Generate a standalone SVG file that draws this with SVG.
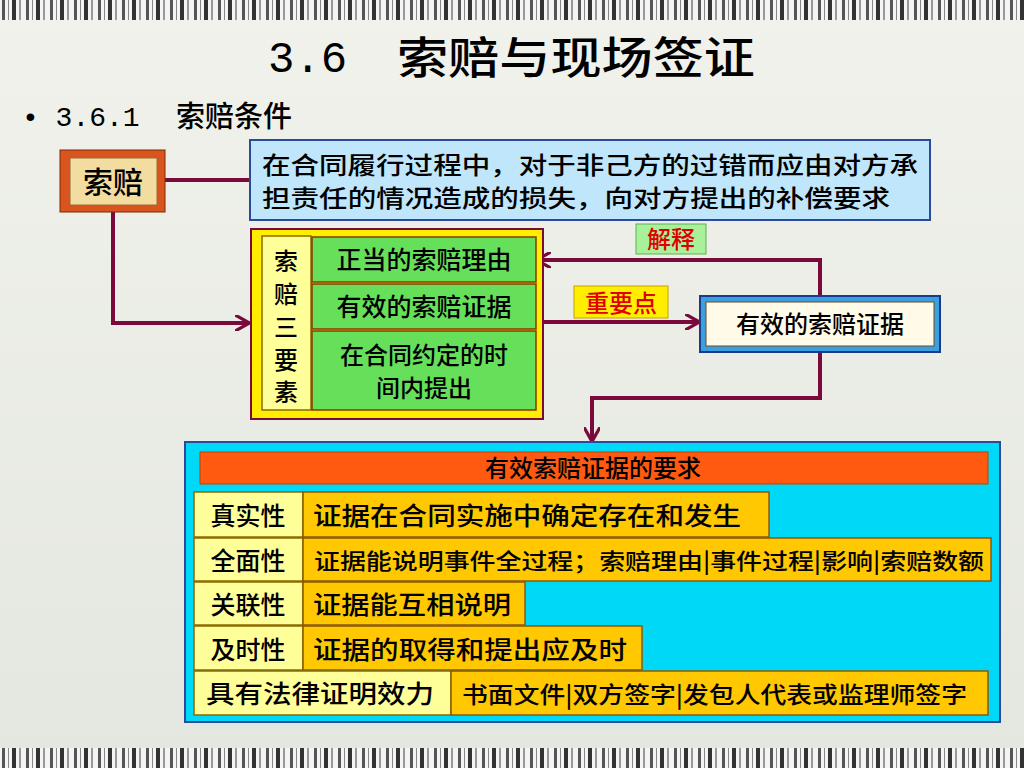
<svg xmlns="http://www.w3.org/2000/svg" width="1024" height="768" viewBox="0 0 1024 768">
<defs>
<linearGradient id="bg" x1="0" y1="0" x2="0" y2="1"><stop offset="0" stop-color="#f1f2ec"/><stop offset="1" stop-color="#e4e6e0"/></linearGradient>
<pattern id="bars" width="24" height="20" patternUnits="userSpaceOnUse"><rect width="24" height="20" fill="#f4f4f4"/><rect x="2" width="3" height="20" fill="#555"/><rect x="8" width="1" height="20" fill="#888"/><rect x="12" width="4" height="20" fill="#333"/><rect x="19" width="2" height="20" fill="#999"/></pattern>
<marker id="ar" viewBox="0 0 10 10" refX="8" refY="5" markerWidth="4" markerHeight="4" orient="auto"><path d="M0,0 L9,5 L0,10" fill="none" stroke="#7a0a3c" stroke-width="2"/></marker>
<style>
.t{font-family:"Noto Sans CJK SC","Liberation Sans",sans-serif;fill:#000;font-weight:500}
.c{stroke:#7a0a3c;stroke-width:4;fill:none}
.lab{fill:#ffff99;stroke:#8a6a00;stroke-width:1.5}
.gold{fill:#ffc800;stroke:#8a5a00;stroke-width:1.5}
.grn{fill:#66e05a;stroke:#8a3a00;stroke-width:1.5}
</style>
</defs>
<rect width="1024" height="768" fill="url(#bg)"/>
<rect width="1024" height="20" fill="url(#bars)"/>
<rect y="748" width="1024" height="20" fill="url(#bars)"/>
<text x="268" y="72" font-size="44" style="font-family:'Liberation Mono',monospace">3.6</text>
<text class="t" x="397" y="74" font-size="44" textLength="358" lengthAdjust="spacingAndGlyphs">索赔与现场签证</text>
<text x="22" y="126" font-size="28" style="font-family:'Liberation Mono',monospace">• 3.6.1</text>
<text class="t" x="176" y="127" font-size="29">索赔条件</text>
<g id="connectors">
<path class="c" d="M165,180 H250"/>
<path class="c" d="M113,212 V323 H248" marker-end="url(#ar)"/>
<path class="c" d="M543,322 H698" marker-end="url(#ar)"/>
<path class="c" d="M820,296 V260 H538" marker-end="url(#ar)"/>
<path class="c" d="M820,352 V398 H592 V440" marker-end="url(#ar)"/>
</g>
<g id="suopei">
<rect x="60" y="150" width="105" height="62" fill="#d9541e" stroke="#7a2a00"/>
<rect x="70" y="158" width="87" height="47" fill="#f3dca0" stroke="#9a6a30"/>
<text class="t" x="113" y="193" font-size="30" text-anchor="middle">索赔</text>
</g>
<g id="def">
<rect x="250" y="140" width="680" height="80" fill="#bfe6fa" stroke="#2a4a9a" stroke-width="2"/>
<text class="t" x="262" y="174" font-size="24" textLength="656" lengthAdjust="spacingAndGlyphs">在合同履行过程中，对于非己方的过错而应由对方承</text>
<text class="t" x="262" y="207" font-size="24" textLength="628" lengthAdjust="spacingAndGlyphs">担责任的情况造成的损失，向对方提出的补偿要求</text>
</g>
<g id="three">
<rect x="251" y="229" width="292" height="190" fill="#ffee00" stroke="#7a0a3c" stroke-width="2"/>
<rect x="262" y="236" width="49" height="174" class="lab"/>
<text class="t" font-size="24" text-anchor="middle"><tspan x="286" y="270">索</tspan><tspan x="286" y="303">赔</tspan><tspan x="286" y="336">三</tspan><tspan x="286" y="369">要</tspan><tspan x="286" y="401">素</tspan></text>
<rect x="312" y="237" width="224" height="45" class="grn"/>
<text class="t" x="424" y="269" font-size="25" text-anchor="middle">正当的索赔理由</text>
<rect x="312" y="284" width="224" height="45" class="grn"/>
<text class="t" x="424" y="316" font-size="25" text-anchor="middle">有效的索赔证据</text>
<rect x="312" y="331" width="224" height="79" class="grn"/>
<text class="t" x="424" y="364" font-size="24" text-anchor="middle">在合同约定的时</text>
<text class="t" x="424" y="397" font-size="24" text-anchor="middle">间内提出</text>
</g>
<g id="lbl1"><rect x="574" y="286" width="94" height="32" fill="#ffee00" stroke="#c8a000"/><text x="621" y="312" font-size="24" text-anchor="middle" class="t" style="fill:#e00000">重要点</text></g>
<g id="lbl2"><rect x="636" y="224" width="70" height="30" fill="#a8f09a" stroke="#60b050"/><text x="671" y="248" font-size="24" text-anchor="middle" class="t" style="fill:#e00000">解释</text></g>
<g id="evid">
<rect x="700" y="296" width="240" height="56" fill="#3aa0e0" stroke="#1a3a8a" stroke-width="2"/>
<rect x="706" y="302" width="228" height="44" fill="#fffbe8" stroke="#6a4a20"/>
<text class="t" x="820" y="333" font-size="24" text-anchor="middle">有效的索赔证据</text>
</g>
<g id="req">
<rect x="185" y="442" width="815" height="280" fill="#00d8f8" stroke="#2a4a9a" stroke-width="2"/>
<rect x="200" y="452" width="788" height="32" fill="#ff5a10" stroke="#c04000"/>
<text class="t" x="593" y="477" font-size="24" text-anchor="middle">有效索赔证据的要求</text>
<rect x="194" y="492" width="109" height="45" class="lab"/><text class="t" x="248" y="525" font-size="25" text-anchor="middle">真实性</text>
<rect x="303" y="492" width="466" height="45" class="gold"/><text class="t" x="313" y="525" font-size="25" textLength="428" lengthAdjust="spacingAndGlyphs">证据在合同实施中确定存在和发生</text>
<rect x="194" y="538" width="109" height="43" class="lab"/><text class="t" x="248" y="570" font-size="25" text-anchor="middle">全面性</text>
<rect x="303" y="538" width="688" height="43" class="gold"/><text class="t" x="314" y="569" font-size="22" textLength="670" lengthAdjust="spacingAndGlyphs">证据能说明事件全过程；索赔理由|事件过程|影响|索赔数额</text>
<rect x="194" y="582" width="109" height="43" class="lab"/><text class="t" x="248" y="614" font-size="25" text-anchor="middle">关联性</text>
<rect x="303" y="582" width="222" height="43" class="gold"/><text class="t" x="313" y="614" font-size="25" textLength="198" lengthAdjust="spacingAndGlyphs">证据能互相说明</text>
<rect x="194" y="626" width="109" height="44" class="lab"/><text class="t" x="248" y="659" font-size="25" text-anchor="middle">及时性</text>
<rect x="303" y="626" width="339" height="44" class="gold"/><text class="t" x="313" y="659" font-size="25" textLength="314" lengthAdjust="spacingAndGlyphs">证据的取得和提出应及时</text>
<rect x="194" y="671" width="257" height="44" class="lab"/><text class="t" x="206" y="703" font-size="25" textLength="228" lengthAdjust="spacingAndGlyphs">具有法律证明效力</text>
<rect x="451" y="671" width="537" height="44" class="gold"/><text class="t" x="462" y="703" font-size="23" textLength="505" lengthAdjust="spacingAndGlyphs">书面文件|双方签字|发包人代表或监理师签字</text>
</g>
</svg>
